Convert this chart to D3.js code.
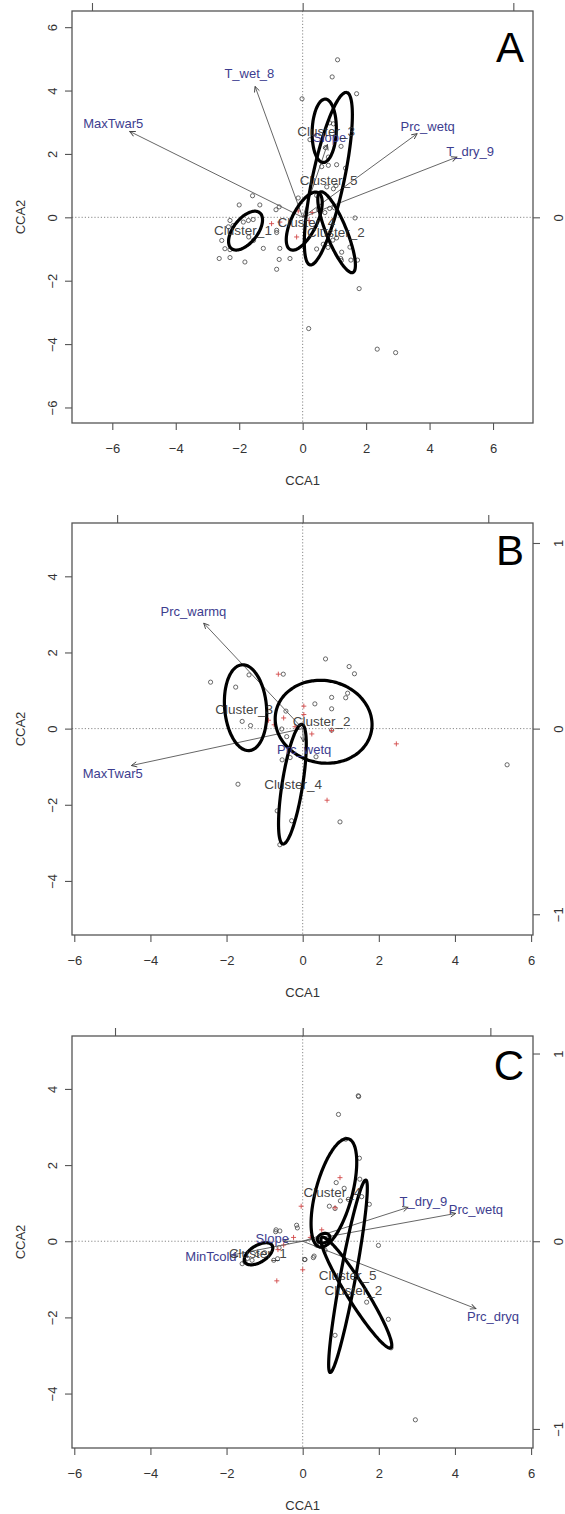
<!DOCTYPE html>
<html><head><meta charset="utf-8">
<script src="https://cdn.jsdelivr.net/npm/d3@7"></script>
<style>body{margin:0;background:#fff}svg{display:block}text{font-family:"Liberation Sans",Arial,Helvetica,sans-serif}</style>
</head><body><svg id="c" width="565" height="1514"></svg>
<script>
// ---------------- DATA ----------------
const xTicksAll = [-6,-4,-2,0,2,4,6];
const yTicksA = [-6,-4,-2,0,2,4,6];
const yTicksBC = [-4,-2,0,2,4];
const secTicks = [-1,0,1];
const axisTitleX = "CCA1", axisTitleY = "CCA2";

// Panel A
const pointsA = [[1.10,4.97],[0.93,4.43],[1.70,3.90],[-0.02,3.74],[0.97,2.95],[0.85,2.98],[0.23,2.45],[1.21,2.24],[0.72,2.20],[0.81,1.90],[1.07,1.66],[0.81,1.64],[0.60,1.60],[1.35,1.55],[0.44,0.69],[0.76,0.96],[0.97,0.90],[1.05,1.00],[-1.58,0.68],[-2.00,0.39],[-1.35,0.39],[-0.74,0.33],[-0.84,0.24],[-0.14,0.61],[1.65,-0.02],[0.50,0.25],[0.70,0.15],[0.85,0.28],[1.00,0.30],[-2.29,-0.10],[-2.19,-0.26],[-2.34,-0.30],[-1.87,-0.15],[-1.71,-0.10],[-1.56,-0.07],[-1.55,-0.73],[-1.70,-0.62],[-2.55,-0.73],[-2.45,-0.99],[-2.29,-1.02],[-2.63,-1.30],[-2.29,-1.27],[-1.82,-1.41],[-1.24,-0.98],[-0.72,-0.98],[-0.74,-1.33],[-0.40,-1.30],[-0.82,-1.64],[-0.82,-0.41],[-0.82,-0.48],[0.44,-1.00],[0.65,-0.85],[0.80,-0.95],[0.95,-0.72],[1.07,-0.65],[1.23,-1.10],[1.49,-0.94],[1.20,-1.30],[1.22,-1.36],[1.52,-1.35],[1.73,-1.35],[1.78,-2.25],[0.19,-3.51],[2.35,-4.16],[2.93,-4.27]];
const crossesA = [[-0.98,-0.20],[-0.72,-0.15],[-0.19,-0.62],[-0.14,0.20],[0.10,0.05],[0.30,0.15],[0.55,0.20],[0.20,-0.10]];
// ellipses: [cx, cy, semi-major, semi-minor, angle(deg)]
const ellipsesA = [[-1.80,-0.42,0.72,0.38,52],[0.68,2.73,1.00,0.38,88],[0.81,1.22,2.78,0.50,78],[0.05,-0.12,1.00,0.40,64],[1.07,-0.47,1.37,0.32,112]];
const clusterLabelsA = [["Cluster_3",0.74,2.72],["Cluster_5",0.82,1.17],["Cluster_4",0.12,-0.15],["Cluster_2",1.05,-0.48],["Cluster_1",-1.88,-0.41]];
const envNamesA = ["MaxTwar5","T_wet_8","Prc_wetq","T_dry_9","Slope"];
const envTipsA = [[-5.45,2.71],[-1.50,4.13],[3.61,2.64],[4.86,1.90],[0.78,2.30]];
const envLabelPosA = [[-5.97,2.95],[-1.68,4.55],[3.94,2.88],[5.28,2.09],[0.85,2.53]];

// Panel B
const pointsB = [[-2.42,1.22],[-1.76,1.09],[-1.41,1.41],[-0.51,1.43],[0.60,1.83],[1.22,1.63],[1.36,1.44],[1.18,0.93],[1.13,0.81],[0.76,0.82],[0.76,0.52],[0.32,0.65],[-1.59,0.19],[-1.37,0.08],[-0.44,0.46],[-0.55,-0.01],[-0.42,-0.21],[0.76,-0.04],[-0.54,-0.82],[-0.33,-0.76],[0.35,-0.74],[5.37,-0.95],[-1.70,-1.46],[-0.67,-2.16],[-0.29,-2.42],[0.98,-2.45],[-0.60,-3.05]];
const crossesB = [[-0.64,1.43],[0.03,0.59],[0.03,0.37],[-0.90,0.22],[-0.50,0.28],[0.24,-0.14],[0.76,-0.05],[2.46,-0.40],[0.64,-1.88],[-0.75,0.10],[-0.20,0.05]];
const ellipsesB = [[-1.50,0.55,1.13,0.55,95],[0.55,0.18,1.28,1.08,-12],[-0.27,-1.46,1.59,0.27,81]];
const clusterLabelsB = [["Cluster_3",-1.54,0.52],["Cluster_2",0.50,0.18],["Cluster_4",-0.25,-1.46]];
const envNamesB = ["Prc_warmq","MaxTwar5","Prc_wetq"];
const envTipsB = [[-2.60,2.77],[-4.50,-0.97],[0.02,-0.35]];
const envLabelPosB = [[-2.87,3.08],[-4.99,-1.17],[0.04,-0.55]];

// Panel C
const pointsC = [[1.46,3.82],[1.47,3.80],[0.94,3.33],[1.13,2.68],[1.49,2.18],[1.50,1.63],[0.88,1.54],[1.09,1.39],[1.20,1.10],[0.99,1.06],[0.70,0.92],[1.55,1.17],[1.75,0.97],[0.85,0.86],[1.99,-0.11],[1.68,-1.60],[2.25,-2.05],[0.85,-2.47],[2.32,-2.80],[2.96,-4.69],[0.05,-0.48],[0.30,-0.39],[0.59,-0.24],[0.36,-0.10],[-0.16,0.42],[-0.14,0.35],[-0.70,0.30],[-0.60,0.27],[0.06,-0.48],[0.28,-0.43],[-1.59,-0.59],[-1.52,-0.54],[-1.33,-0.50],[-0.76,-0.50],[-0.66,-0.46],[-0.62,-0.17],[-0.71,0.25],[-1.45,-0.45],[-1.20,-0.35],[-1.00,-0.30]];
const crossesC = [[0.98,1.67],[-0.04,0.92],[-0.68,-1.04],[0.00,-0.75],[-0.24,0.10],[-0.65,-0.22],[0.85,0.88],[0.50,0.30],[-0.50,-0.10],[0.20,0.10]];
const ellipsesC = [[-1.16,-0.33,0.42,0.22,32],[0.82,1.27,1.47,0.48,75],[1.19,-0.92,2.57,0.20,79.5],[1.41,-1.35,1.71,0.25,-58],[0.55,0.08,0.17,0.12,20]];
const clusterLabelsC = [["Cluster_4",0.78,1.28],["Cluster_1",-1.18,-0.32],["Cluster_5",1.18,-0.89],["Cluster_2",1.33,-1.29]];
const envNamesC = ["T_dry_9","Prc_wetq","Prc_dryq","MinTcold","Slope"];
const envTipsC = [[2.77,0.89],[4.02,0.73],[4.55,-1.77],[-1.85,-0.36],[-0.50,0.00]];
const envLabelPosC = [[3.17,1.04],[4.55,0.83],[5.00,-1.97],[-2.41,-0.39],[-0.80,0.07]];

// ---------------- DRAWING ----------------
const svg = d3.select("#c");
svg.append("rect").attr("width",565).attr("height",1514).attr("fill","#fff");
const defs = svg.append("defs");
defs.append("marker").attr("id","ah").attr("viewBox","-7 -4 8 8").attr("refX",0).attr("refY",0)
  .attr("markerWidth",8).attr("markerHeight",8).attr("markerUnits","userSpaceOnUse").attr("orient","auto")
  .append("path").attr("d","M-5.5,-2.6L0,0L-5.5,2.6").attr("fill","none").attr("stroke","#444").attr("stroke-width",0.9);

const AXC = "#555", TXC = "#333";

function ellPts(e){
  const [cx,cy,a,b,ang]=e, t=ang*Math.PI/180;
  return d3.range(0,360,3).map(d=>{const u=d*Math.PI/180;
    return [cx+a*Math.cos(t)*Math.cos(u)-b*Math.sin(t)*Math.sin(u), cy+a*Math.sin(t)*Math.cos(u)+b*Math.cos(t)*Math.sin(u)];});
}

function panel(p, idx){
  const x = d3.scaleLinear().domain(p.xDom).range([p.left,p.right]);
  const y = d3.scaleLinear().domain(p.yDom).range([p.bottom,p.top]);
  const xs = d3.scaleLinear().domain([p.xDom[0]/p.secMul, p.xDom[1]/p.secMul]).range([p.left,p.right]);
  const ys = d3.scaleLinear().domain([p.yDom[0]/p.secMul, p.yDom[1]/p.secMul]).range([p.bottom,p.top]);
  const g = svg.append("g");
  const cid = "clip"+idx;
  defs.append("clipPath").attr("id",cid).append("rect").attr("x",p.left).attr("y",p.top).attr("width",p.right-p.left).attr("height",p.bottom-p.top);
  const inner = g.append("g").attr("clip-path",`url(#${cid})`);

  // dotted zero lines
  inner.append("line").attr("x1",x(0)).attr("x2",x(0)).attr("y1",p.top).attr("y2",p.bottom)
    .attr("stroke","#888").attr("stroke-width",1).attr("stroke-dasharray","1.2,2");
  inner.append("line").attr("y1",y(0)).attr("y2",y(0)).attr("x1",p.left).attr("x2",p.right)
    .attr("stroke","#888").attr("stroke-width",1).attr("stroke-dasharray","1.2,2");

  // site points
  inner.selectAll("circle.pt").data(p.points).join("circle").attr("class","pt")
    .attr("cx",d=>x(d[0])).attr("cy",d=>y(d[1])).attr("r",2.1)
    .attr("fill","none").attr("stroke","#444").attr("stroke-width",0.8);
  // species crosses
  inner.selectAll("path.cr").data(p.crosses).join("path").attr("class","cr")
    .attr("d",d=>{const cx=x(d[0]),cy=y(d[1]);return `M${cx-2.5},${cy}H${cx+2.5}M${cx},${cy-2.5}V${cy+2.5}`;})
    .attr("stroke","#d24a4a").attr("stroke-width",0.9).attr("fill","none");

  // env arrows
  inner.selectAll("line.arr").data(p.envTips).join("line").attr("class","arr")
    .attr("x1",x(0)).attr("y1",y(0)).attr("x2",d=>x(d[0])).attr("y2",d=>y(d[1]))
    .attr("stroke","#555").attr("stroke-width",0.9).attr("marker-end","url(#ah)");

  // ellipses
  const line = d3.line().x(d=>x(d[0])).y(d=>y(d[1])).curve(d3.curveCardinalClosed);
  inner.selectAll("path.ell").data(p.ellipses).join("path").attr("class","ell")
    .attr("d",d=>line(ellPts(d))).attr("fill","none").attr("stroke","#000").attr("stroke-width",3.2);

  // env labels
  inner.selectAll("text.env").data(p.envNames).join("text").attr("class","env")
    .attr("x",(d,i)=>x(p.envLabelPos[i][0])).attr("y",(d,i)=>y(p.envLabelPos[i][1])).attr("dy","0.35em")
    .attr("text-anchor","middle").attr("font-size",13).attr("fill","#3d3d8f").text(d=>d);
  // cluster labels
  inner.selectAll("text.cl").data(p.clusterLabels).join("text").attr("class","cl")
    .attr("x",d=>x(d[1])).attr("y",d=>y(d[2])).attr("dy","0.35em")
    .attr("text-anchor","middle").attr("font-size",13.5).attr("fill","#2e2e2e").attr("fill-opacity",0.9).text(d=>d[0]);

  // panel letter
  g.append("text").attr("x",p.right-9).attr("y",p.letterY).attr("text-anchor","end")
    .attr("font-size",42).attr("fill","#000").text(p.letter);

  // box
  g.append("rect").attr("x",p.left).attr("y",p.top).attr("width",p.right-p.left).attr("height",p.bottom-p.top)
    .attr("fill","none").attr("stroke",AXC).attr("stroke-width",1.3);

  // bottom axis
  const bx = g.append("g").attr("transform",`translate(0,${p.bottom})`).call(d3.axisBottom(x).tickValues(xTicksAll).tickSize(7).tickFormat(d3.format("d")));
  bx.select(".domain").remove();
  bx.selectAll("line").attr("stroke",AXC).attr("stroke-width",1.1);
  bx.selectAll("text").attr("y",30).attr("dy",0).attr("font-size",13).attr("fill",TXC).attr("font-family",null);
  // left axis
  const ly = g.append("g").attr("transform",`translate(${p.left},0)`).call(d3.axisLeft(y).tickValues(p.yTicks).tickSize(7).tickFormat(d3.format("d")));
  ly.select(".domain").remove();
  ly.selectAll("line").attr("stroke",AXC).attr("stroke-width",1.1);
  ly.selectAll("text").attr("transform","rotate(-90)").attr("x",0).attr("y",-15).attr("dy",0)
    .attr("text-anchor","middle").attr("font-size",13).attr("fill",TXC).attr("font-family",null);
  // top axis (secondary, ticks only)
  const tx = g.append("g").attr("transform",`translate(0,${p.top})`).call(d3.axisTop(xs).tickValues(secTicks.filter(v=>xs(v)>=p.left&&xs(v)<=p.right)).tickSize(8).tickFormat(""));
  tx.select(".domain").remove();
  tx.selectAll("line").attr("stroke",AXC).attr("stroke-width",1.1);
  // right axis (secondary)
  const ry = g.append("g").attr("transform",`translate(${p.right},0)`).call(d3.axisRight(ys).tickValues(secTicks.filter(v=>ys(v)>=p.top&&ys(v)<=p.bottom)).tickSize(7).tickFormat(d3.format("d")));
  ry.select(".domain").remove();
  ry.selectAll("line").attr("stroke",AXC).attr("stroke-width",1.1);
  ry.selectAll("text").attr("transform","rotate(-90)").attr("x",0).attr("y",30).attr("dy",0)
    .attr("text-anchor","middle").attr("font-size",13).attr("fill",TXC).attr("font-family",null);

  // titles
  g.append("text").attr("x",x(0)).attr("y",p.bottom+62).attr("text-anchor","middle").attr("font-size",13).attr("fill",TXC).text(axisTitleX);
  g.append("text").attr("transform",`translate(25,${(p.top+p.bottom)/2}) rotate(-90)`).attr("text-anchor","middle").attr("font-size",13).attr("fill",TXC).text(axisTitleY);
}

panel({left:72,right:533,top:11,bottom:423,xDom:[-7.27,7.26],yDom:[-6.49,6.51],secMul:6.64,yTicks:yTicksA,
  points:pointsA,crosses:crossesA,ellipses:ellipsesA,clusterLabels:clusterLabelsA,envNames:envNamesA,envTips:envTipsA,envLabelPos:envLabelPosA,letter:"A",letterY:62},0);
panel({left:72,right:533,top:523,bottom:935,xDom:[-6.06,6.05],yDom:[-5.42,5.40],secMul:4.875,yTicks:yTicksBC,
  points:pointsB,crosses:crossesB,ellipses:ellipsesB,clusterLabels:clusterLabelsB,envNames:envNamesB,envTips:envTipsB,envLabelPos:envLabelPosB,letter:"B",letterY:565},1);
panel({left:72,right:533,top:1036,bottom:1448,xDom:[-6.06,6.05],yDom:[-5.43,5.39],secMul:4.93,yTicks:yTicksBC,
  points:pointsC,crosses:crossesC,ellipses:ellipsesC,clusterLabels:clusterLabelsC,envNames:envNamesC,envTips:envTipsC,envLabelPos:envLabelPosC,letter:"C",letterY:1080},2);
</script></body></html>
